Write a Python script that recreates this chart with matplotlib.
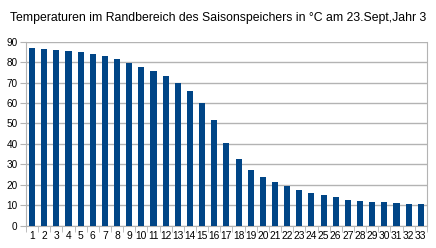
import matplotlib
matplotlib.use("Agg")
import matplotlib.pyplot as plt
import numpy as np

plt.rcParams['font.family'] = ['Liberation Sans', 'DejaVu Sans']

positions = list(range(1, 34))
temperatures = [86.8, 86.2, 85.7, 85.3, 84.8, 83.9, 83.0, 81.4, 79.4, 77.5,
                75.5, 73.1, 69.7, 65.7, 60.0, 51.6, 40.6, 32.8, 27.4, 24.0,
                21.6, 19.2, 17.7, 16.2, 14.8, 13.8, 12.8, 11.9, 11.4, 11.4,
                10.9, 10.5, 10.5]
y_ticks = list(range(0, 91, 10))
title = "Temperaturen im Randbereich des Saisonspeichers in °C am 23.Sept,Jahr 3"

fig = plt.figure(figsize=(4.36, 2.48), dpi=100)
ax = fig.add_axes([0.0596, 0.0899, 0.9194, 0.742])

idx = np.arange(len(positions))
ax.bar(idx, temperatures, width=0.5, color="#004586", zorder=3)

ax.set_xlim(-0.5, len(positions) - 0.5)
ax.set_ylim(0, 90)
ax.set_yticks(y_ticks)
ax.set_xticks(idx)
ax.set_xticklabels([str(p) for p in positions])
ax.set_xticks(np.arange(-0.5, len(positions)), minor=True)

ax.grid(axis="y", color="#b3b3b3", linewidth=1, zorder=0)
for s in ["left", "right", "bottom"]:
    ax.spines[s].set_color("#b3b3b3")
ax.spines["top"].set_visible(False)

ax.tick_params(axis="x", which="major", length=0, pad=4, labelsize=7.4, colors="#000000")
ax.tick_params(axis="x", which="minor", length=4, color="#b3b3b3", direction="out")
ax.tick_params(axis="y", length=4, color="#b3b3b3", labelsize=7.2, pad=2)
for lab in ax.get_yticklabels() + ax.get_xticklabels():
    lab.set_color("#000000")

fig.text(0.501, 0.928, title, ha="center", va="center", fontsize=8.8)

fig.savefig("out.png", dpi=100)
